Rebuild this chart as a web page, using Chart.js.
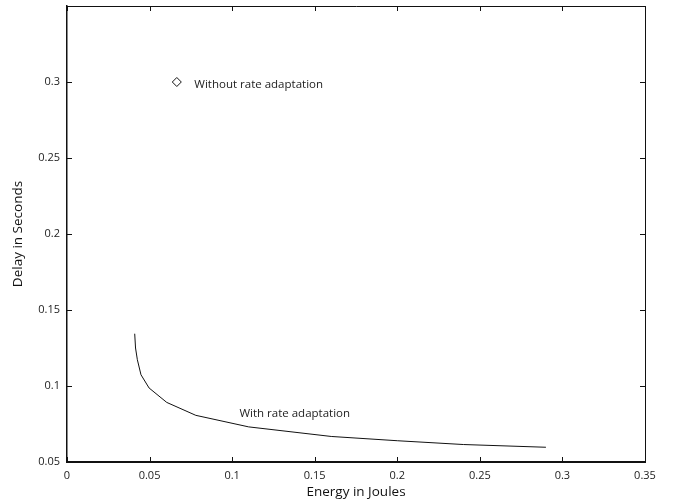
<!DOCTYPE html>
<html>
<head>
<meta charset="utf-8">
<script src="https://cdn.jsdelivr.net/npm/chart.js@4"></script>
<style>
  html, body { margin: 0; padding: 0; background: #fff; }
  #wrap { width: 678px; height: 502px; }
</style>
</head>
<body>
<div id="wrap"><canvas id="chart" width="678" height="502"></canvas></div>
<script>
// curve: with rate adaptation
const energyWith = [0.041, 0.0415, 0.0426, 0.0448, 0.0497, 0.0604, 0.078, 0.11, 0.16, 0.2, 0.24, 0.29];
const delayWith = [0.1344, 0.125, 0.1173, 0.1074, 0.0987, 0.0892, 0.0807, 0.0731, 0.0668, 0.064, 0.0615, 0.0597];

// single point: without rate adaptation
const energyWithout = [0.0665];
const delayWithout = [0.3];

const xTicks = [0, 0.05, 0.1, 0.15, 0.2, 0.25, 0.3, 0.35];
const yTicks = [0.05, 0.1, 0.15, 0.2, 0.25, 0.3, 0.35];
const yHidden = [0.35]; // y tick drawn without label

// annotation text and its anchor in data units
const notes = [
  { text: "Without rate adaptation", x: 0.0771, y: 0.2985 },
  { text: "With rate adaptation", x: 0.1044, y: 0.0815 }
];

const FONT = "'Open Sans', sans-serif";
const fmt = v => String(+v.toFixed(2));
const fmtY = v => yHidden.includes(v) ? "" : fmt(v);

// frame on top/right + inward ticks on all sides + text labels
const framePlugin = {
  id: "frame",
  afterDraw(chart) {
    const { ctx, chartArea: a, scales } = chart;
    ctx.save();
    ctx.strokeStyle = "#111";
    ctx.lineWidth = 1;
    ctx.beginPath();
    ctx.moveTo(a.left, a.top + 0.5);
    ctx.lineTo(a.right + 0.5, a.top + 0.5);
    ctx.lineTo(a.right + 0.5, a.bottom);
    ctx.stroke();

    const t = 5;
    ctx.beginPath();
    xTicks.forEach(v => {
      const px = Math.round(scales.x.getPixelForValue(v)) + 0.5;
      ctx.moveTo(px, a.bottom); ctx.lineTo(px, a.bottom - t);
      ctx.moveTo(px, a.top); ctx.lineTo(px, a.top + t);
    });
    yTicks.forEach(v => {
      const py = Math.round(scales.y.getPixelForValue(v)) + 0.5;
      ctx.moveTo(a.left, py); ctx.lineTo(a.left + t, py);
      ctx.moveTo(a.right, py); ctx.lineTo(a.right - t, py);
    });
    ctx.stroke();

    ctx.fillStyle = "#222";
    ctx.font = "11.5px " + FONT;
    ctx.textBaseline = "middle";
    notes.forEach(n => {
      ctx.fillText(n.text, scales.x.getPixelForValue(n.x), scales.y.getPixelForValue(n.y));
    });
    ctx.restore();
  }
};

new Chart(document.getElementById("chart"), {
  type: "scatter",
  data: {
    datasets: [
      {
        label: "With rate adaptation",
        data: energyWith.map((e, i) => ({ x: e, y: delayWith[i] })),
        showLine: true,
        borderColor: "#111",
        borderWidth: 1,
        pointRadius: 0,
        tension: 0
      },
      {
        label: "Without rate adaptation",
        data: energyWithout.map((e, i) => ({ x: e, y: delayWithout[i] })),
        pointStyle: "rectRot",
        pointRadius: 4.5,
        borderColor: "#111",
        borderWidth: 1,
        backgroundColor: "#fff"
      }
    ]
  },
  options: {
    responsive: false,
    animation: false,
    layout: { padding: { top: 6, right: 33, left: 0, bottom: 0 } },
    plugins: { legend: { display: false }, tooltip: { enabled: false } },
    scales: {
      x: {
        type: "linear",
        min: 0,
        max: 0.35,
        afterBuildTicks: s => { s.ticks = xTicks.map(v => ({ value: v })); },
        afterFit: s => { s.height = 40; },
        ticks: { callback: fmt, color: "#222", font: { family: FONT, size: 11 }, padding: 7, maxRotation: 0 },
        grid: { drawOnChartArea: false, drawTicks: false },
        border: { color: "#111", width: 2 },
        title: { display: true, text: "Energy in Joules", color: "#111", font: { family: FONT, size: 13.5 }, padding: { top: 0, bottom: 2 } }
      },
      y: {
        type: "linear",
        min: 0.05,
        max: 0.35,
        afterBuildTicks: s => { s.ticks = yTicks.map(v => ({ value: v })); },
        afterFit: s => { s.width = 67; s.paddingTop = 0; },
        ticks: { callback: fmtY, color: "#222", font: { family: FONT, size: 11 }, padding: 7 },
        grid: { drawOnChartArea: false, drawTicks: false },
        border: { color: "#111", width: 1.5 },
        title: { display: true, text: "Delay in Seconds", color: "#111", font: { family: FONT, size: 13.5 }, padding: { top: 10, bottom: 0 } }
      }
    }
  },
  plugins: [framePlugin]
});
</script>
</body>
</html>
